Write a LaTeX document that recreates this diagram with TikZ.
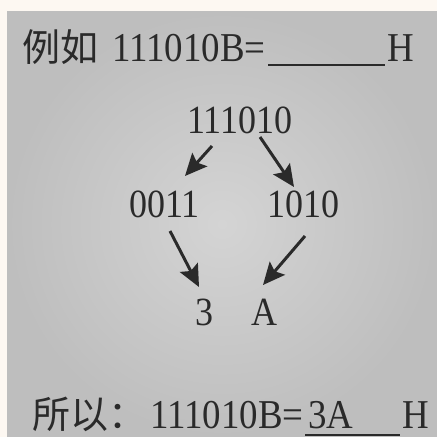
\documentclass[tikz,border=0pt]{standalone}
\usepackage{fontspec}
\setmainfont{Liberation Serif}[FakeStretch=0.9]
\newfontfamily\cjk{Noto Sans CJK SC}
\usetikzlibrary{arrows.meta}
\definecolor{paper}{HTML}{FDF8F2}
\definecolor{ink}{HTML}{2A2A2A}
\definecolor{greyin}{HTML}{D4D4D4}
\definecolor{greyout}{HTML}{BEBEBE}
\begin{document}
\begin{tikzpicture}[x=1pt,y=-1pt,
  txt/.style={inner sep=0pt, anchor=base west, text depth=0pt, text=ink, font=\fontsize{41}{41}\selectfont},
  mid/.style={inner sep=0pt, anchor=base west, text depth=0pt, text=ink, font=\fontsize{40}{40}\selectfont},
  han/.style={inner sep=0pt, anchor=base west, text depth=0pt, text=ink, font=\cjk\fontsize{38}{38}\selectfont},
  arr/.style={draw=ink, line width=3pt, -{Stealth[length=22pt,width=20pt,inset=4pt]}},
  rule/.style={draw=ink, line width=2pt},
]
\useasboundingbox (0,0) rectangle (437,437);
\fill[paper] (0,0) rectangle (437,437);
\shade[inner color=greyin, outer color=greyout] (7,11) rectangle (437,437);

% top line
\node[han] (lie) at (22,61) {例如};
\node[txt] (q) at (112,61) {111010B=};
\coordinate (u1a) at (268,65);
\coordinate (u1b) at (385,65);
\draw[rule] (u1a) -- (u1b);
\node[txt] (h1) at (387,61) {H};

% middle
\node[mid] (bin) at (187,133) {111010};
\node[mid] (lo) at (129,217) {0011};
\node[mid] (hi) at (267,217) {1010};
\node[mid] (three) at (195,325) {3};
\node[mid] (aa) at (251,325) {A};

\coordinate (a1s) at (212,146);
\coordinate (a1e) at (185,176);
\coordinate (a2s) at (260,137);
\coordinate (a2e) at (294,187);
\coordinate (a3s) at (170,231);
\coordinate (a3e) at (199,287);
\coordinate (a4s) at (305,236);
\coordinate (a4e) at (263,285);
\draw[arr] (a1s) -- (a1e);
\draw[arr] (a2s) -- (a2e);
\draw[arr] (a3s) -- (a3e);
\draw[arr] (a4s) -- (a4e);

% bottom line
\node[han] (suo) at (32,428) {所以：};
\node[txt] (r) at (150,428) {111010B=};
\node[txt] (ans) at (308,428) {3A};
\coordinate (u2a) at (305,434.5);
\coordinate (u2b) at (400,434.5);
\draw[rule] (u2a) -- (u2b);
\node[txt] (h2) at (402,428) {H};
\end{tikzpicture}
\end{document}
